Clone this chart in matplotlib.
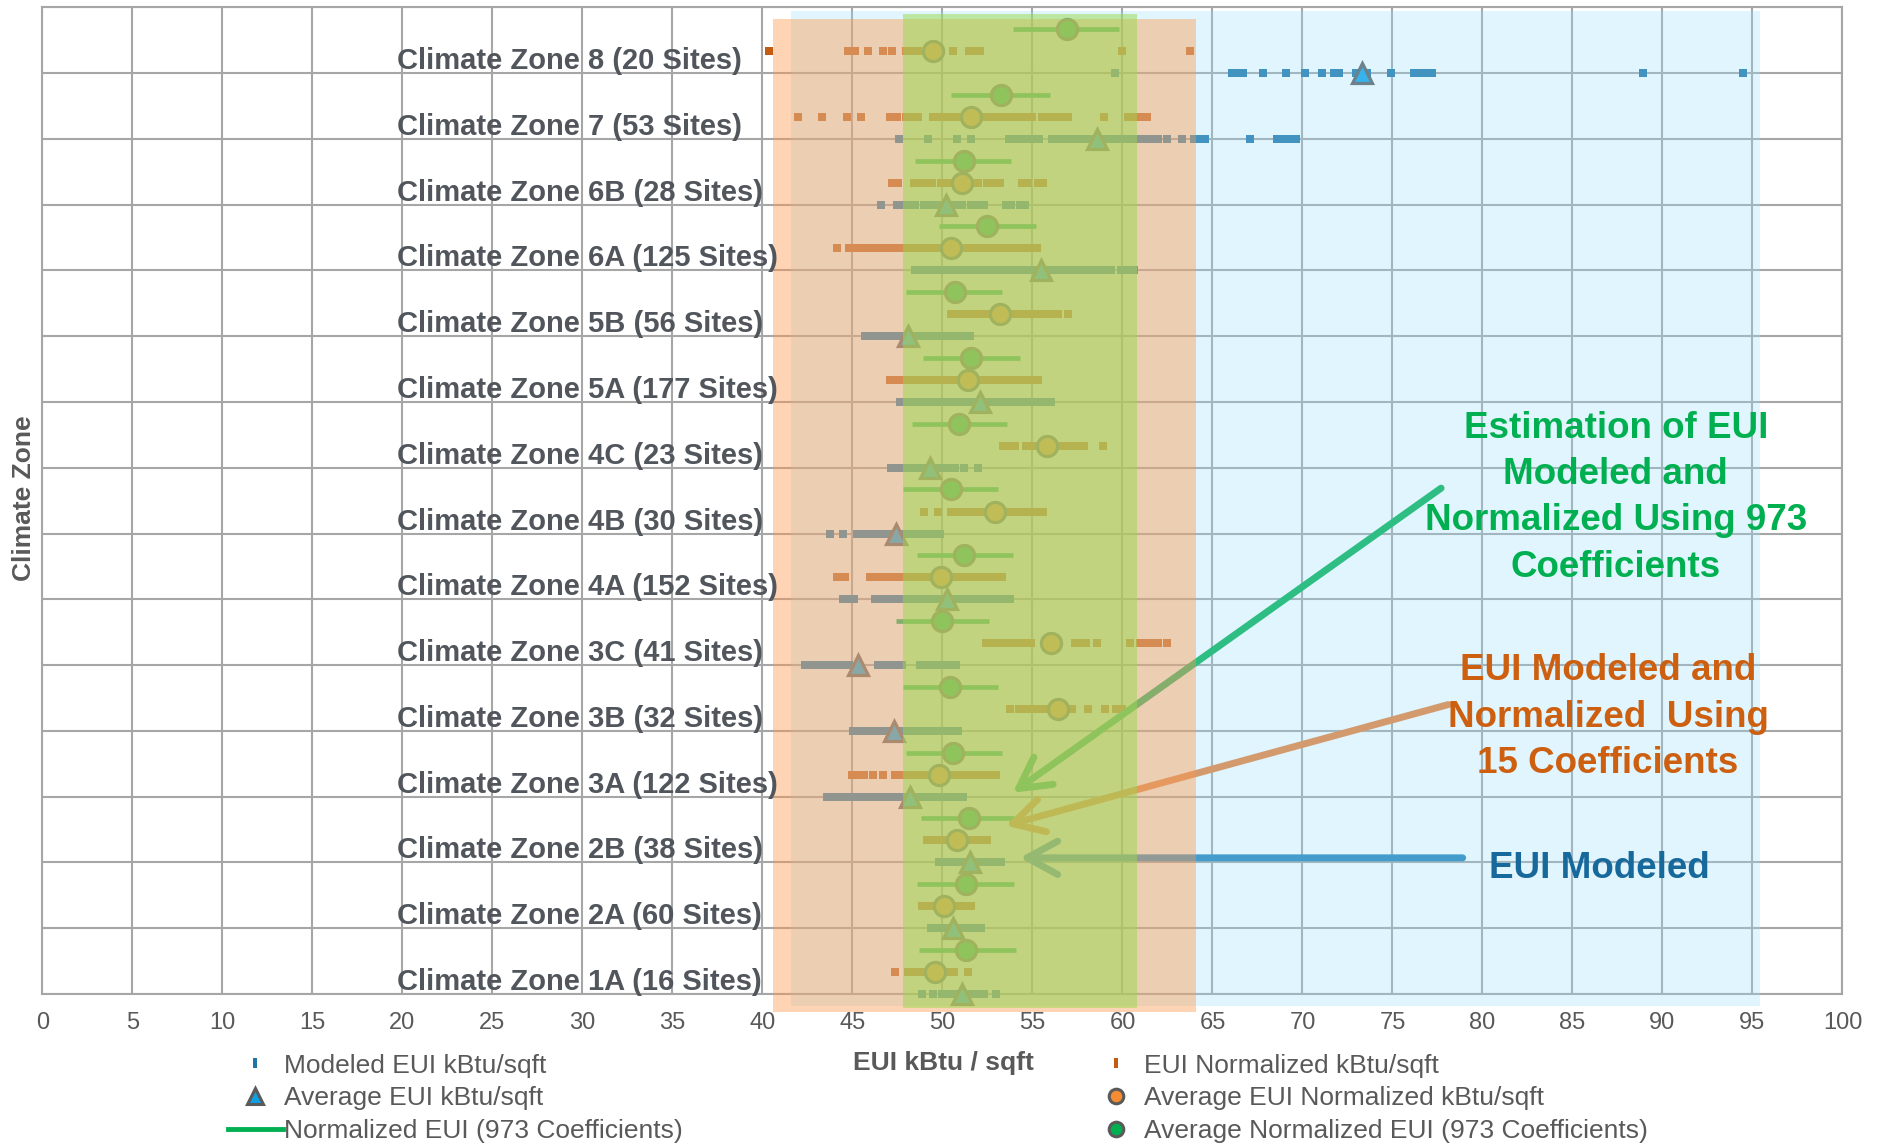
import numpy as np
import matplotlib
matplotlib.use("Agg")
import matplotlib.pyplot as plt
from matplotlib.patches import Rectangle
from matplotlib.lines import Line2D

plt.rcParams["font.family"] = ["Liberation Sans", "DejaVu Sans"]

# ---------------------------------------------------------------- data
# climate zones from bottom row to top row
zones = ["1A", "2A", "2B", "3A", "3B", "3C", "4A", "4B", "4C", "5A", "5B", "6A", "6B", "7", "8"]
sites = [16, 60, 38, 122, 32, 41, 152, 30, 23, 177, 56, 125, 28, 53, 20]

# modeled EUI per site (kBtu/sqft)
modeled_1a = [48.85, 49.5, 50.0, 50.35, 50.7, 51.05, 51.4, 51.75, 52.1, 52.3, 53.0]
modeled_2a = [49.35, 49.7, 50.05, 50.4, 50.75, 51.1, 51.45, 51.8, 52.15]
modeled_2b = [49.8, 50.15, 50.5, 50.85, 51.2, 51.55, 51.9, 52.25, 52.6, 52.95, 53.25]
modeled_3a = [43.6, 43.95, 44.4, 44.75, 45.1, 45.35, 45.75, 46.1, 46.45, 46.8, 47.15, 47.5,
              47.85, 48.2, 48.55, 48.9, 49.25, 49.6, 49.95, 50.3, 50.65, 51.0, 51.15]
modeled_3b = [45.05, 45.4, 45.75, 46.1, 46.45, 46.8, 47.15, 47.5, 47.85, 48.2, 48.55, 48.9,
              49.25, 49.6, 49.95, 50.3, 50.6, 50.85]
modeled_3c = [42.35, 42.7, 43.05, 43.4, 43.75, 44.1, 44.45, 44.8, 45.3, 46.4, 46.75, 47.1,
              47.45, 47.75, 48.75, 49.1, 49.45, 49.8, 50.15, 50.5, 50.75]
modeled_4a = [44.45, 44.8, 45.1, 46.25, 46.6, 46.95, 47.3, 47.65, 48.0, 48.35, 48.7, 49.05,
              49.4, 49.75, 50.1, 50.45, 50.8, 51.15, 51.5, 51.85, 52.2, 52.55, 52.9, 53.25,
              53.6, 53.75]
modeled_4b = [43.75, 44.5, 45.25, 45.6, 45.95, 46.3, 46.65, 47.0, 47.35, 47.7, 48.05, 48.4,
              48.75, 49.1, 49.45, 49.85]
modeled_4c = [47.15, 47.5, 47.85, 48.25, 48.6, 48.95, 49.3, 49.65, 50.0, 50.35, 50.7, 51.2, 52.0]
modeled_5a = [47.65, 48.0, 48.35, 48.7, 49.05, 49.4, 49.75, 50.1, 50.45, 50.8, 51.15, 51.5,
              51.85, 52.2, 52.55, 52.9, 53.25, 53.6, 53.95, 54.3, 54.65, 55.0, 55.35, 55.7, 56.05]
modeled_5b = [45.7, 46.05, 46.4, 46.75, 47.1, 47.45, 47.8, 48.15, 48.5, 48.85, 49.2, 49.55,
              49.9, 50.25, 50.6, 50.95, 51.1, 51.55]
modeled_6a = [48.45, 48.75, 49.2, 49.55, 49.9, 50.25, 50.6, 50.95, 51.3, 51.65, 52.0, 52.35,
              52.7, 53.05, 53.4, 53.75, 54.1, 54.45, 54.8, 55.15, 55.5, 55.85, 56.2, 56.55,
              56.9, 57.25, 57.6, 57.95, 58.3, 58.65, 59.0, 59.35, 59.9, 60.25, 60.65]
modeled_6b = [46.6, 47.5, 47.85, 48.2, 48.5, 49.0, 49.35, 49.7, 50.05, 50.4, 50.75, 51.1,
              51.6, 51.95, 52.3, 53.55, 53.8, 54.3, 54.6]
modeled_7 = [47.6, 49.2, 50.8, 51.6, 53.7, 54.05, 54.4, 54.75, 55.1, 55.35, 56.1, 56.45, 56.8,
             57.15, 57.5, 57.85, 58.2, 58.55, 58.9, 59.25, 59.6, 59.95, 60.3, 60.6, 60.9,
             61.25, 61.6, 61.95, 62.5, 63.3, 64.0, 64.3, 64.6, 67.1, 68.6, 68.95, 69.3, 69.65]
modeled_8 = [59.6, 66.1, 66.5, 66.7, 67.8, 69.1, 70.15, 71.1, 71.75, 72.05, 73.0, 73.6, 74.9,
             76.2, 76.5, 76.8, 77.2, 88.9, 94.5]

# normalized EUI per site, 15 coefficients (kBtu/sqft)
normalized_1a = [47.35, 48.1, 48.55, 48.9, 49.25, 49.6, 49.95, 50.3, 50.65, 51.4]
normalized_2a = [48.85, 49.2, 49.55, 49.9, 50.25, 50.6, 50.95, 51.3, 51.6]
normalized_2b = [49.15, 49.5, 49.85, 50.2, 50.55, 50.9, 51.25, 51.6, 51.95, 52.3, 52.45]
normalized_3a = [44.95, 45.3, 45.65, 46.15, 46.7, 47.35, 47.7, 48.05, 48.4, 48.75, 49.1, 49.45,
                 49.8, 50.15, 50.5, 50.85, 51.2, 51.55, 51.9, 52.25, 52.6, 52.95]
normalized_3b = [53.75, 54.25, 54.6, 54.95, 55.3, 55.65, 56.0, 56.4, 57.2, 58.1, 59.05, 59.65, 60.0]
normalized_3c = [52.4, 52.75, 53.1, 53.45, 53.8, 54.15, 54.5, 54.9, 56.05, 57.35, 57.7, 58.0,
                 58.6, 60.4, 60.95, 61.3, 61.65, 62.0, 62.5]
normalized_4a = [44.15, 44.6, 45.95, 46.3, 46.65, 47.0, 47.35, 47.7, 48.05, 48.4, 48.75, 49.1,
                 49.45, 49.8, 50.15, 50.5, 50.85, 51.2, 51.55, 51.9, 52.25, 52.6, 52.95, 53.3]
normalized_4b = [48.95, 49.75, 50.45, 50.8, 51.15, 51.5, 51.85, 52.2, 52.55, 52.9, 53.25, 53.6,
                 53.95, 54.3, 54.55, 54.9, 55.25, 55.6]
normalized_4c = [53.35, 53.7, 54.05, 54.65, 55.0, 55.35, 55.7, 56.05, 56.4, 56.75, 57.1, 57.4,
                 57.85, 58.9]
normalized_5a = [47.1, 47.45, 47.8, 48.15, 48.5, 48.85, 49.2, 49.55, 49.9, 50.25, 50.6, 50.95,
                 51.3, 51.65, 52.0, 52.35, 52.7, 53.05, 53.4, 53.75, 54.1, 54.45, 54.8, 55.1, 55.3]
normalized_5b = [50.5, 50.85, 51.2, 51.55, 51.9, 52.25, 52.6, 52.95, 53.3, 53.65, 54.0, 54.35,
                 54.7, 55.05, 55.4, 55.75, 56.1, 56.4, 56.95]
normalized_6a = [44.15, 44.8, 45.15, 45.5, 45.85, 46.2, 46.55, 46.9, 47.25, 47.6, 47.95, 48.3,
                 48.65, 49.0, 49.35, 49.7, 50.05, 50.4, 50.75, 51.1, 51.45, 51.8, 52.15, 52.5,
                 52.85, 53.2, 53.55, 53.9, 54.15, 54.6, 54.95, 55.25]
normalized_6b = [47.2, 47.55, 48.4, 48.75, 49.1, 49.4, 49.9, 50.25, 50.6, 50.95, 51.3, 51.65,
                 52.0, 52.5, 52.85, 53.2, 54.4, 54.75, 55.3, 55.6]
normalized_7 = [42.0, 43.3, 44.7, 45.5, 47.1, 47.5, 48.0, 48.35, 48.65, 49.45, 49.8, 50.15,
                50.5, 50.85, 51.2, 51.6, 51.95, 52.3, 52.65, 53.0, 53.3, 53.65, 54.0, 54.35,
                54.65, 55.0, 55.55, 55.9, 56.25, 56.6, 56.95, 59.0, 60.3, 60.65, 61.0, 61.35]
normalized_8 = [40.35, 44.75, 45.15, 45.85, 46.7, 47.2, 47.95, 48.3, 48.65, 49.3, 49.7, 50.6,
                51.45, 51.8, 52.1, 59.95, 63.75]

# zone averages
avg_modeled = [51.1, 50.6, 51.55, 48.2, 47.3, 45.3, 50.25, 47.4, 49.3, 52.1, 48.1, 55.5, 50.2, 58.6, 73.3]
avg_normalized = [49.6, 50.1, 50.8, 49.8, 56.4, 56.05, 49.9, 52.9, 55.8, 51.4, 53.2, 50.5, 51.1, 51.6, 49.5]

# normalized EUI with 973 coefficients: range and average per zone
norm973_low = [48.7, 48.6, 48.8, 48.0, 47.8, 47.4, 48.6, 47.8, 48.3, 48.9, 47.95, 49.8, 48.5, 50.5, 53.9]
norm973_high = [54.1, 53.95, 53.95, 53.3, 53.1, 52.6, 53.9, 53.1, 53.6, 54.3, 53.3, 55.2, 53.8, 56.0, 59.8]
norm973_avg = [51.3, 51.3, 51.5, 50.6, 50.4, 49.95, 51.2, 50.5, 50.9, 51.6, 50.7, 52.5, 51.2, 53.25, 56.9]

x_ticks = list(range(0, 101, 5))

modeled = [modeled_1a, modeled_2a, modeled_2b, modeled_3a, modeled_3b, modeled_3c, modeled_4a,
           modeled_4b, modeled_4c, modeled_5a, modeled_5b, modeled_6a, modeled_6b, modeled_7, modeled_8]
normalized = [normalized_1a, normalized_2a, normalized_2b, normalized_3a, normalized_3b,
              normalized_3c, normalized_4a, normalized_4b, normalized_4c, normalized_5a,
              normalized_5b, normalized_6a, normalized_6b, normalized_7, normalized_8]

# ---------------------------------------------------------------- styles
BLUE_SQ = "#1f74a8"
ORANGE_SQ = "#c55a11"
GREEN = "#00b050"
TRI_FILL = "#0ea0e4"
ORANGE_FILL = "#f58c32"
EDGE = "#5a5a5a"
GRID = "#a6a6a6"
TEXT = "#595959"
LABEL = "#51565d"

W, H = 1881, 1144
fig = plt.figure(figsize=(W / 100, H / 100), dpi=100)
ax = fig.add_axes([42.5 / W, 1 - 994 / H, 1800 / W, (994 - 7.3) / H])

OFF_NORM = 0.335
OFF_973 = 0.67

for i, zone in enumerate(zones):
    ax.plot(modeled[i], np.full(len(modeled[i]), i), "s", color=BLUE_SQ, ms=5.5, mew=0,
            zorder=3, clip_on=False)
    ax.plot(normalized[i], np.full(len(normalized[i]), i + OFF_NORM), "s", color=ORANGE_SQ,
            ms=5.5, mew=0, zorder=3, clip_on=False)
    ax.plot([norm973_low[i], norm973_high[i]], [i + OFF_973] * 2, color=GREEN, lw=3.4,
            solid_capstyle="butt", zorder=3)
    ax.plot(avg_modeled[i], i, "^", mfc=TRI_FILL, mec=EDGE, ms=15, mew=2.3, zorder=4,
            clip_on=False)
    ax.plot(avg_normalized[i], i + OFF_NORM, "o", mfc=ORANGE_FILL, mec=EDGE, ms=14.5, mew=2.3,
            zorder=4)
    ax.plot(norm973_avg[i], i + OFF_973, "o", mfc=GREEN, mec=EDGE, ms=14.5, mew=2.3, zorder=4)
    ax.text(19.68, i + 0.061, f"Climate Zone {zone} ({sites[i]} Sites)", ha="left",
            va="baseline", fontsize=21, fontweight="bold", color=LABEL, zorder=10)

# translucent range bands laid over the points
ax.add_patch(Rectangle((41.6, -0.19), 95.4 - 41.6, 14.94 + 0.19, facecolor=(0.6, 0.87, 0.98),
                       alpha=0.3, lw=0, zorder=5, clip_on=False))
ax.add_patch(Rectangle((40.6, -0.28), 64.1 - 40.6, 14.82 + 0.28, facecolor=(1.0, 0.6, 0.3),
                       alpha=0.42, lw=0, zorder=6, clip_on=False))
ax.add_patch(Rectangle((47.8, -0.21), 60.8 - 47.8, 14.90 + 0.21, facecolor=(0.6, 0.85, 0.3),
                       alpha=0.5, lw=0, zorder=7, clip_on=False))

# call-out arrows
head = "->,head_length=1.1,head_width=0.6"
ax.annotate("", xy=(53.9, 3.06), xytext=(77.7, 7.69), zorder=4.5,
            arrowprops=dict(arrowstyle=head, color="#00b050", lw=5, mutation_scale=20,
                            shrinkA=0, shrinkB=0))
ax.annotate("", xy=(53.5, 2.56), xytext=(78.1, 4.4), zorder=4.5,
            arrowprops=dict(arrowstyle=head, color="#ed7d31", lw=5, mutation_scale=20,
                            shrinkA=0, shrinkB=0))
ax.annotate("", xy=(54.3, 2.07), xytext=(78.9, 2.07), zorder=4.5,
            arrowprops=dict(arrowstyle=head, color="#1f80b8", lw=5, mutation_scale=20,
                            shrinkA=0, shrinkB=0))

# call-out text (baseline of the last line is the anchor)
ax.text(87.4, 6.345, "Estimation of EUI\nModeled and\nNormalized Using 973\nCoefficients",
        ha="center", va="baseline", multialignment="center", fontsize=26.5,
        fontweight="bold", color="#00b050", linespacing=1.42, zorder=10)
ax.text(86.97, 3.357, "EUI Modeled and\nNormalized  Using\n15 Coefficients",
        ha="center", va="baseline", multialignment="center", fontsize=26.5,
        fontweight="bold", color="#cd5f10", linespacing=1.42, zorder=10)
ax.text(86.5, 1.761, "EUI Modeled", ha="center", va="baseline", fontsize=26.5,
        fontweight="bold", color="#17699c", zorder=10)

# axes, grid, ticks
ax.set_xlim(0, 100)
ax.set_ylim(0, 15)
ax.set_xticks(x_ticks)
ax.set_xticklabels([str(t) for t in x_ticks])
ax.set_yticks(range(16))
ax.set_yticklabels([])
ax.tick_params(axis="both", length=0)
ax.tick_params(axis="x", labelsize=17, labelcolor=TEXT, pad=13)
ax.set_axisbelow(True)
ax.grid(True, color=GRID, lw=1.5)
for s in ax.spines.values():
    s.set_color(GRID)
    s.set_linewidth(1.5)

fig.text(24 / W, 1 - 498 / H, "Climate Zone", rotation=90, ha="center", va="center",
         fontsize=19, fontweight="bold", color=TEXT)
fig.text(943.5 / W, 1 - 1063 / H, "EUI kBtu / sqft", ha="center", va="center",
         fontsize=19, fontweight="bold", color=TEXT)

# legends
bar = [(-0.4, -1), (0.4, -1), (0.4, 1), (-0.4, 1), (-0.4, -1)]
h1 = [Line2D([], [], ls="none", marker=bar, color=BLUE_SQ, ms=7, mew=0),
      Line2D([], [], ls="none", marker="^", mfc=TRI_FILL, mec=EDGE, ms=11, mew=2.2),
      Line2D([], [], color=GREEN, lw=3.5)]
l1 = ["Modeled EUI kBtu/sqft", "Average EUI kBtu/sqft", "Normalized EUI (973 Coefficients)"]
h2 = [Line2D([], [], ls="none", marker=bar, color=ORANGE_SQ, ms=7, mew=0),
      Line2D([], [], ls="none", marker="o", mfc=ORANGE_FILL, mec=EDGE, ms=10.5, mew=2.2),
      Line2D([], [], ls="none", marker="o", mfc=GREEN, mec=EDGE, ms=10.5, mew=2.2)]
l2 = ["EUI Normalized kBtu/sqft", "Average EUI Normalized kBtu/sqft",
      "Average Normalized EUI (973 Coefficients)"]
common = dict(loc="upper left", frameon=False, fontsize=19, labelcolor=TEXT,
              handlelength=2.08, handletextpad=0.04, labelspacing=0.33, borderpad=0,
              borderaxespad=0)
fig.legend(h1, l1, bbox_to_anchor=(228 / W, 1 - 1053.5 / H), **common)
fig.legend(h2, l2, bbox_to_anchor=(1088.5 / W, 1 - 1053.5 / H), **common)

fig.savefig("out.png", dpi=100)
